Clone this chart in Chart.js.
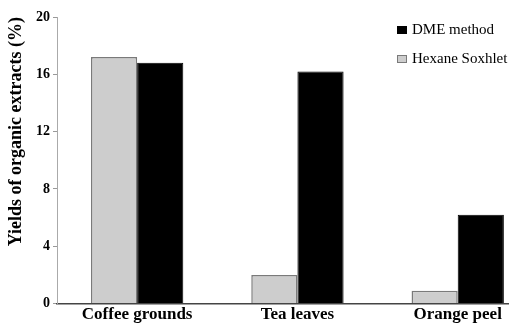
<!DOCTYPE html>
<html>
<head>
<meta charset="utf-8">
<script src="https://cdn.jsdelivr.net/npm/chart.js@4/dist/chart.umd.min.js"></script>
<style>
html,body{margin:0;padding:0;background:#fff;}
#wrap{width:509px;height:327px;position:relative;}
</style>
</head>
<body>
<div id="wrap"><canvas id="c" width="509" height="327"></canvas></div>
<script>
const categories = ["Coffee grounds", "Tea leaves", "Orange peel"];
const hexaneSoxhlet = [17.2, 2.0, 0.9];
const dmeMethod = [16.8, 16.2, 6.2];
const yTicks = [0, 4, 8, 12, 16, 20];
const seriesNames = ["Hexane Soxhlet", "DME method"];

const FONT = '"Liberation Serif", "Times New Roman", serif';

const legendPlugin = {
  id: 'customLegend',
  afterDraw(chart) {
    const ctx = chart.ctx;
    const ds = chart.data.datasets.slice().reverse();
    ctx.save();
    ctx.font = '15px ' + FONT;
    ctx.textBaseline = 'middle';
    ds.forEach((d, i) => {
      const y = 30 + i * 29;
      ctx.fillStyle = d.backgroundColor;
      ctx.fillRect(397, y - 4, 10, 8);
      ctx.strokeStyle = d.borderColor;
      ctx.lineWidth = 1;
      ctx.strokeRect(397.5, y - 3.5, 9, 7);
      ctx.fillStyle = '#000';
      ctx.fillText(d.label, 412, y);
    });
    ctx.restore();
  }
};

new Chart(document.getElementById('c'), {
  type: 'bar',
  data: {
    datasets: [
      {
        label: seriesNames[0],
        data: hexaneSoxhlet.map((v, i) => ({x: i, y: v})),
        backgroundColor: '#cdcdcd',
        borderColor: '#7a7a7a',
        borderWidth: 1.5,
        categoryPercentage: 0.576,
        barPercentage: 1.0
      },
      {
        label: seriesNames[1],
        data: dmeMethod.map((v, i) => ({x: i, y: v})),
        backgroundColor: '#000000',
        borderColor: '#000000',
        borderWidth: 1,
        categoryPercentage: 0.576,
        barPercentage: 1.0
      }
    ]
  },
  options: {
    responsive: false,
    animation: false,
    layout: { padding: { top: 17, right: 0, left: 6, bottom: 1 } },
    plugins: {
      legend: { display: false },
      tooltip: { enabled: false }
    },
    scales: {
      x: {
        type: 'linear',
        offset: false,
        min: -0.5,
        max: 2.32,
        afterBuildTicks: (s) => { s.ticks = categories.map((c, i) => ({value: i})); },
        ticks: {
          autoSkip: false,
          maxRotation: 0,
          padding: 1,
          color: '#000',
          font: { family: FONT, size: 17, weight: 'bold' },
          callback: (v) => categories[Math.round(v)]
        },
        grid: { display: false, drawTicks: false, offset: false },
        border: { display: true, color: '#444', width: 1.5 }
      },
      y: {
        min: 0,
        max: 20,
        afterBuildTicks: (s) => { s.ticks = yTicks.map(v => ({value: v})); },
        afterFit: (s) => { s.width = 51; },
        ticks: {
          padding: 3,
          color: '#000',
          font: { family: FONT, size: 14, weight: 'bold' }
        },
        grid: { drawOnChartArea: false, drawTicks: true, tickLength: 4, color: '#999' },
        border: { display: true, color: '#aaa', width: 1 },
        title: {
          display: true,
          text: 'Yields of organic extracts (%)',
          align: 'end',
          color: '#000',
          padding: { top: 0, bottom: 4 },
          font: { family: FONT, size: 18, weight: 'bold' }
        }
      }
    }
  },
  plugins: [legendPlugin]
});
</script>
</body>
</html>
